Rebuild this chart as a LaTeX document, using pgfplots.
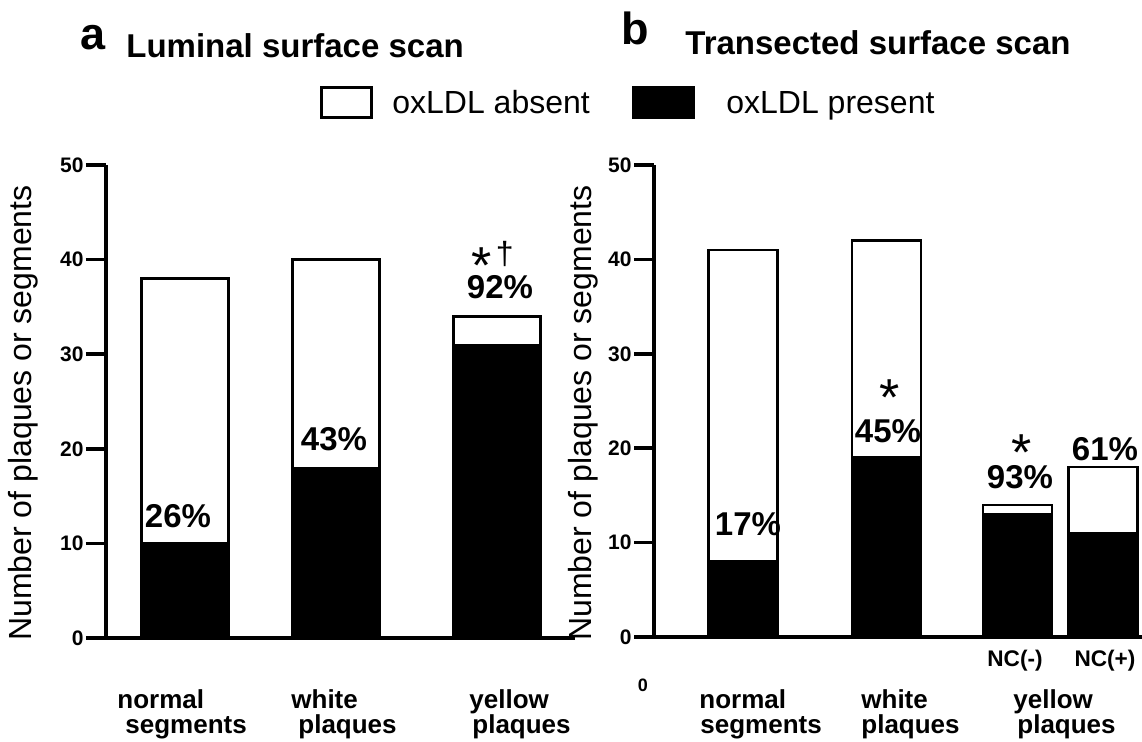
\documentclass[border=0pt]{standalone}
\usepackage{pgfplots}
\pgfplotsset{compat=1.18}
\usepackage{fontspec}
\setmainfont{Liberation Sans}
\newcommand{\fs}[1]{\fontsize{#1}{#1}\selectfont}
\newcommand{\mk}[3]{\rlap{\hspace{#1}\raisebox{#2}[0pt][0pt]{\mdseries#3}}}
\pgfplotsset{
  panel/.style={
    scale only axis, ymin=0, ymax=50,
    ytick={0,10,20,30,40,50}, yticklabels={0,10,20,30,40,50},
    axis x line*=bottom, axis y line*=left, xtick=\empty,
    ybar stacked,
    axis line style={line width=2pt, black},
    tick align=outside, major tick length=10pt,
    major tick style={line width=1.8pt, black},
    yticklabel style={font=\bfseries\fs{10.5}, inner sep=1pt},
    clip=false,
  },
}
\begin{document}
\begin{tikzpicture}[x=0.5pt,y=0.5pt]
\path[use as bounding box] (0,0) rectangle (1142,741);

% titles
\node[anchor=base west, inner sep=0, font=\bfseries\fs{22.5}] at (80,691) {a};
\node[anchor=base west, inner sep=0, font=\bfseries\fs{16.5}] at (126,683) {Luminal surface scan};
\node[anchor=base west, inner sep=0, font=\bfseries\fs{22.5}] at (621,696) {b};
\node[anchor=base west, inner sep=0, font=\bfseries\fs{16.5}] at (685,686) {Transected surface scan};

% legend
\draw[line width=1.5pt, fill=white] (321,653) rectangle (371,623);
\node[anchor=base west, inner sep=0, font=\fs{16}] at (392,627) {oxLDL absent};
\draw[line width=1.5pt, fill=black] (633,653) rectangle (693,623);
\node[anchor=base west, inner sep=0, font=\fs{16}] at (726,627) {oxLDL present};

% y labels
\node[rotate=90, inner sep=0, font=\fs{16}] at (23,328) {Number of plaques or segments};
\node[rotate=90, inner sep=0, font=\fs{16}] at (583,328) {Number of plaques or segments};

% panel a
\begin{axis}[panel, at={(53pt,51.5pt)}, anchor=south west,
  width=234.5pt, height=236.5pt, xmin=0, xmax=469, bar width=87]
\addplot[fill=black, draw=black, line width=1.2pt] coordinates {(79,10) (230,18) (391,31)};
\addplot[fill=white, draw=black, line width=1.2pt] coordinates {(79,28) (230,22) (391,3)};
\end{axis}

% panel b
\begin{axis}[panel, at={(327pt,52pt)}, anchor=south west,
  width=244pt, height=236pt, xmin=0, xmax=488, bar width=69]
\addplot[fill=black, draw=black, line width=1.2pt] coordinates {(89,8) (232.5,19) (363.5,13) (449,11)};
\addplot[fill=white, draw=black, line width=1.2pt] coordinates {(89,33) (232.5,23) (363.5,1) (449,7)};
\end{axis}

% percentages and significance marks
\begin{scope}[every node/.style={anchor=base, inner sep=0, font=\bfseries\fs{16.5}}]
\node at (178,214) {26\%};
\node at (334,291) {43\%};
\node at (500,443) {\mk{2.5pt}{7.5pt}{\fs{26}*}\mk{14.5pt}{17pt}{\fs{16}\char"2020}92\%};
\node at (748,206) {17\%};
\node at (888,299) {\mk{12.5pt}{13.5pt}{\fs{26}*}45\%};
\node at (1020,253) {\mk{12.5pt}{9pt}{\fs{26}*}93\%};
\node at (1105,281) {61\%};
\end{scope}

% NC labels
\node[inner sep=0, font=\bfseries\fs{11.3}] at (1015,80) {NC(-)};
\node[inner sep=0, font=\bfseries\fs{11.3}] at (1105,80) {NC(+)};

% category labels
\begin{scope}[every node/.style={anchor=base west, inner sep=0, font=\bfseries\fs{13}}]
\node at (117,33) {normal};
\node at (125,8) {segments};
\node at (291,33) {white};
\node at (298,8) {plaques};
\node at (469,33) {yellow};
\node at (472,8) {plaques};
\node at (699,33) {normal};
\node at (700,8) {segments};
\node at (861,33) {white};
\node at (861,8) {plaques};
\node at (1013,33) {yellow};
\node at (1017,8) {plaques};
\end{scope}
\node[inner sep=0, font=\bfseries\fs{9}] at (643,56) {0};
\end{tikzpicture}
\end{document}
